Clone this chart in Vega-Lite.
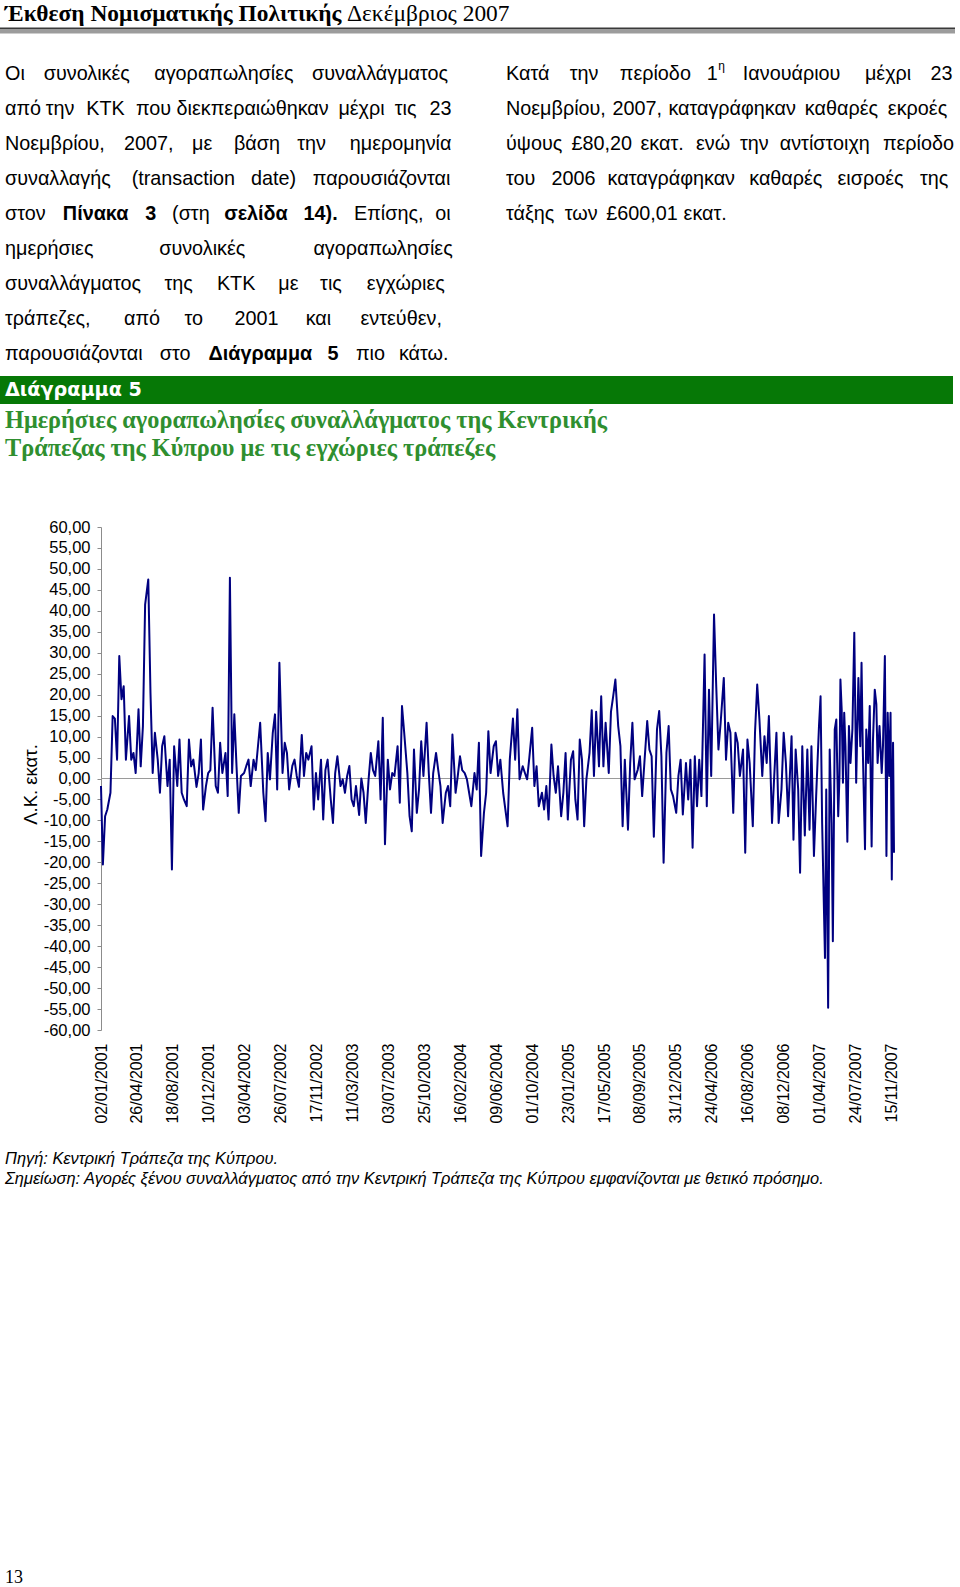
{
  "$schema": "https://vega.github.io/schema/vega-lite/v6.json",
  "width": 793,
  "height": 503,
  "autosize": {"type": "none"},
  "padding": {"left": 101, "top": 527, "right": 66, "bottom": 557},
  "background": "white",
  "config": {"view": {"stroke": null}, "font": "Liberation Sans"},
  "resolve": {"scale": {"x": "independent", "y": "independent"}},
  "datasets": {
    "fx": [
      {"d":"2001-01-02","v":-1.8},{"d":"2001-01-08","v":-20.5},{"d":"2001-01-15","v":-9.0},{"d":"2001-01-22","v":-7.4},
      {"d":"2001-02-01","v":-3.4},{"d":"2001-02-08","v":14.9},{"d":"2001-02-15","v":14.3},{"d":"2001-02-22","v":4.5},
      {"d":"2001-03-01","v":29.2},{"d":"2001-03-08","v":18.9},{"d":"2001-03-15","v":22.0},{"d":"2001-03-22","v":4.5},
      {"d":"2001-04-01","v":14.9},{"d":"2001-04-08","v":4.5},{"d":"2001-04-15","v":6.1},{"d":"2001-04-22","v":1.3},
      {"d":"2001-05-01","v":16.5},{"d":"2001-05-08","v":2.9},{"d":"2001-05-15","v":12.5},{"d":"2001-05-22","v":41.5},
      {"d":"2001-06-01","v":47.5},{"d":"2001-06-08","v":20.4},{"d":"2001-06-15","v":1.3},{"d":"2001-06-22","v":10.9},
      {"d":"2001-07-01","v":4.5},{"d":"2001-07-08","v":-3.4},{"d":"2001-07-15","v":7.7},{"d":"2001-07-22","v":10.1},
      {"d":"2001-08-01","v":-1.8},{"d":"2001-08-08","v":4.5},{"d":"2001-08-15","v":-21.7},{"d":"2001-08-22","v":7.7},
      {"d":"2001-09-01","v":-1.8},{"d":"2001-09-08","v":9.3},{"d":"2001-09-15","v":-3.4},{"d":"2001-09-22","v":-5.0},
      {"d":"2001-10-01","v":-6.6},{"d":"2001-10-08","v":9.3},{"d":"2001-10-15","v":2.9},{"d":"2001-10-22","v":4.5},
      {"d":"2001-11-01","v":-2.0},{"d":"2001-11-08","v":1.3},{"d":"2001-11-15","v":9.3},{"d":"2001-11-22","v":-7.4},
      {"d":"2001-12-01","v":-1.8},{"d":"2001-12-08","v":1.3},{"d":"2001-12-15","v":2.0},{"d":"2001-12-22","v":16.9},
      {"d":"2002-01-01","v":-1.8},{"d":"2002-01-08","v":-3.4},{"d":"2002-01-15","v":8.5},{"d":"2002-01-22","v":1.3},
      {"d":"2002-02-01","v":6.1},{"d":"2002-02-08","v":-4.2},{"d":"2002-02-15","v":47.9},{"d":"2002-02-22","v":1.3},
      {"d":"2002-03-01","v":15.3},{"d":"2002-03-08","v":2.9},{"d":"2002-03-15","v":-8.2},{"d":"2002-03-22","v":0.6},
      {"d":"2002-04-01","v":1.3},{"d":"2002-04-08","v":3.0},{"d":"2002-04-15","v":4.5},{"d":"2002-04-22","v":-1.8},
      {"d":"2002-05-01","v":4.5},{"d":"2002-05-08","v":2.0},{"d":"2002-05-15","v":7.7},{"d":"2002-05-22","v":13.3},
      {"d":"2002-06-01","v":-3.4},{"d":"2002-06-08","v":-10.2},{"d":"2002-06-15","v":6.1},{"d":"2002-06-22","v":-0.2},
      {"d":"2002-07-01","v":10.9},{"d":"2002-07-08","v":15.3},{"d":"2002-07-15","v":-2.6},{"d":"2002-07-22","v":27.6},
      {"d":"2002-08-01","v":1.3},{"d":"2002-08-08","v":8.5},{"d":"2002-08-15","v":6.1},{"d":"2002-08-22","v":-2.6},
      {"d":"2002-09-01","v":3.0},{"d":"2002-09-08","v":4.5},{"d":"2002-09-15","v":0.6},{"d":"2002-09-22","v":-2.0},
      {"d":"2002-10-01","v":10.4},{"d":"2002-10-08","v":0.6},{"d":"2002-10-15","v":6.1},{"d":"2002-10-22","v":4.5},
      {"d":"2002-11-01","v":7.7},{"d":"2002-11-08","v":-7.4},{"d":"2002-11-15","v":1.3},{"d":"2002-11-22","v":-5.0},
      {"d":"2002-12-01","v":4.5},{"d":"2002-12-08","v":-9.8},{"d":"2002-12-15","v":2.0},{"d":"2002-12-22","v":4.5},
      {"d":"2003-01-01","v":-5.0},{"d":"2003-01-08","v":-10.6},{"d":"2003-01-15","v":1.3},{"d":"2003-01-22","v":5.3},
      {"d":"2003-02-01","v":-1.8},{"d":"2003-02-08","v":-0.2},{"d":"2003-02-15","v":-3.4},{"d":"2003-02-22","v":0.6},
      {"d":"2003-03-01","v":3.0},{"d":"2003-03-08","v":-5.0},{"d":"2003-03-15","v":-6.6},{"d":"2003-03-22","v":-1.8},
      {"d":"2003-04-01","v":-8.7},{"d":"2003-04-08","v":0.0},{"d":"2003-04-15","v":-3.4},{"d":"2003-04-22","v":-10.6},
      {"d":"2003-05-01","v":-0.2},{"d":"2003-05-08","v":6.1},{"d":"2003-05-15","v":2.0},{"d":"2003-05-22","v":0.6},
      {"d":"2003-06-01","v":8.9},{"d":"2003-06-08","v":-5.0},{"d":"2003-06-15","v":14.5},{"d":"2003-06-22","v":-15.7},
      {"d":"2003-07-01","v":4.5},{"d":"2003-07-08","v":-2.6},{"d":"2003-07-15","v":1.3},{"d":"2003-07-22","v":0.6},
      {"d":"2003-08-01","v":7.7},{"d":"2003-08-08","v":-5.8},{"d":"2003-08-15","v":17.3},{"d":"2003-08-22","v":10.9},
      {"d":"2003-09-01","v":1.3},{"d":"2003-09-08","v":-9.0},{"d":"2003-09-15","v":-12.6},{"d":"2003-09-22","v":6.9},
      {"d":"2003-10-01","v":-8.2},{"d":"2003-10-08","v":-2.6},{"d":"2003-10-15","v":8.9},{"d":"2003-10-22","v":0.6},
      {"d":"2003-11-01","v":13.3},{"d":"2003-11-08","v":1.3},{"d":"2003-11-15","v":-8.2},{"d":"2003-11-22","v":1.3},
      {"d":"2003-12-01","v":6.1},{"d":"2003-12-08","v":2.0},{"d":"2003-12-15","v":-1.8},{"d":"2003-12-22","v":-10.6},
      {"d":"2004-01-01","v":-3.4},{"d":"2004-01-08","v":-1.8},{"d":"2004-01-15","v":-6.6},{"d":"2004-01-22","v":10.5},
      {"d":"2004-02-01","v":-3.4},{"d":"2004-02-08","v":0.6},{"d":"2004-02-15","v":5.3},{"d":"2004-02-22","v":2.0},
      {"d":"2004-03-01","v":1.3},{"d":"2004-03-08","v":-0.2},{"d":"2004-03-15","v":-3.4},{"d":"2004-03-22","v":-6.6},
      {"d":"2004-04-01","v":1.3},{"d":"2004-04-08","v":-2.6},{"d":"2004-04-15","v":8.5},{"d":"2004-04-22","v":-18.5},
      {"d":"2004-05-01","v":-8.2},{"d":"2004-05-08","v":-3.4},{"d":"2004-05-15","v":11.3},{"d":"2004-05-22","v":1.3},
      {"d":"2004-06-01","v":7.7},{"d":"2004-06-08","v":8.9},{"d":"2004-06-15","v":0.6},{"d":"2004-06-22","v":4.5},
      {"d":"2004-07-01","v":-3.4},{"d":"2004-07-08","v":-7.4},{"d":"2004-07-15","v":-11.4},{"d":"2004-07-22","v":4.5},
      {"d":"2004-08-01","v":14.3},{"d":"2004-08-08","v":4.5},{"d":"2004-08-15","v":16.5},{"d":"2004-08-22","v":-0.2},
      {"d":"2004-09-01","v":2.9},{"d":"2004-09-08","v":1.3},{"d":"2004-09-15","v":-0.2},{"d":"2004-09-22","v":5.0},
      {"d":"2004-10-01","v":12.1},{"d":"2004-10-08","v":-1.8},{"d":"2004-10-15","v":2.9},{"d":"2004-10-22","v":-6.6},
      {"d":"2004-11-01","v":-3.4},{"d":"2004-11-08","v":-7.4},{"d":"2004-11-15","v":-1.8},{"d":"2004-11-22","v":-9.8},
      {"d":"2004-12-01","v":8.1},{"d":"2004-12-08","v":0.6},{"d":"2004-12-15","v":-3.4},{"d":"2004-12-22","v":2.9},
      {"d":"2005-01-01","v":-9.0},{"d":"2005-01-08","v":-3.4},{"d":"2005-01-15","v":6.1},{"d":"2005-01-22","v":-9.8},
      {"d":"2005-02-01","v":4.5},{"d":"2005-02-08","v":6.5},{"d":"2005-02-15","v":-5.0},{"d":"2005-02-22","v":-9.8},
      {"d":"2005-03-01","v":9.3},{"d":"2005-03-08","v":4.5},{"d":"2005-03-15","v":-11.4},{"d":"2005-03-22","v":-0.2},
      {"d":"2005-04-01","v":6.1},{"d":"2005-04-08","v":16.3},{"d":"2005-04-15","v":0.6},{"d":"2005-04-22","v":15.9},
      {"d":"2005-05-01","v":2.9},{"d":"2005-05-08","v":19.6},{"d":"2005-05-15","v":2.9},{"d":"2005-05-22","v":13.3},
      {"d":"2005-06-01","v":1.3},{"d":"2005-06-08","v":15.9},{"d":"2005-06-15","v":19.6},{"d":"2005-06-22","v":23.6},
      {"d":"2005-07-01","v":12.5},{"d":"2005-07-08","v":7.7},{"d":"2005-07-15","v":-11.4},{"d":"2005-07-22","v":4.5},
      {"d":"2005-08-01","v":-12.2},{"d":"2005-08-08","v":3.7},{"d":"2005-08-15","v":13.3},{"d":"2005-08-22","v":-0.2},
      {"d":"2005-09-01","v":2.1},{"d":"2005-09-08","v":5.3},{"d":"2005-09-15","v":-4.2},{"d":"2005-09-22","v":3.7},
      {"d":"2005-10-01","v":13.7},{"d":"2005-10-08","v":6.9},{"d":"2005-10-15","v":5.3},{"d":"2005-10-22","v":-13.9},
      {"d":"2005-11-01","v":11.7},{"d":"2005-11-08","v":16.1},{"d":"2005-11-15","v":5.3},{"d":"2005-11-22","v":-20.1},
      {"d":"2005-12-01","v":6.1},{"d":"2005-12-08","v":12.5},{"d":"2005-12-15","v":-2.6},{"d":"2005-12-22","v":-4.2},
      {"d":"2006-01-01","v":-8.2},{"d":"2006-01-08","v":0.6},{"d":"2006-01-15","v":4.5},{"d":"2006-01-22","v":-8.6},
      {"d":"2006-02-01","v":3.7},{"d":"2006-02-08","v":-5.0},{"d":"2006-02-15","v":4.5},{"d":"2006-02-22","v":-16.5},
      {"d":"2006-03-01","v":5.3},{"d":"2006-03-08","v":-6.6},{"d":"2006-03-15","v":4.5},{"d":"2006-03-22","v":-4.2},
      {"d":"2006-04-01","v":29.6},{"d":"2006-04-08","v":-6.6},{"d":"2006-04-15","v":21.2},{"d":"2006-04-22","v":0.6},
      {"d":"2006-05-01","v":39.1},{"d":"2006-05-08","v":22.0},{"d":"2006-05-15","v":6.9},{"d":"2006-05-22","v":13.3},
      {"d":"2006-06-01","v":24.0},{"d":"2006-06-08","v":4.5},{"d":"2006-06-15","v":13.3},{"d":"2006-06-22","v":10.9},
      {"d":"2006-07-01","v":-8.2},{"d":"2006-07-08","v":10.9},{"d":"2006-07-15","v":8.5},{"d":"2006-07-22","v":0.6},
      {"d":"2006-08-01","v":6.9},{"d":"2006-08-08","v":-17.7},{"d":"2006-08-15","v":9.3},{"d":"2006-08-22","v":3.7},
      {"d":"2006-09-01","v":-11.4},{"d":"2006-09-08","v":10.9},{"d":"2006-09-15","v":22.4},{"d":"2006-09-22","v":14.1},
      {"d":"2006-10-01","v":0.6},{"d":"2006-10-08","v":10.1},{"d":"2006-10-15","v":3.7},{"d":"2006-10-22","v":14.9},
      {"d":"2006-11-01","v":-10.6},{"d":"2006-11-08","v":0.6},{"d":"2006-11-15","v":10.9},{"d":"2006-11-22","v":-10.6},
      {"d":"2006-12-01","v":-2.6},{"d":"2006-12-08","v":10.9},{"d":"2006-12-15","v":3.7},{"d":"2006-12-22","v":-9.0},
      {"d":"2007-01-02","v":10.1},{"d":"2007-01-08","v":-14.6},{"d":"2007-01-15","v":6.9},{"d":"2007-01-23","v":-2.6},
      {"d":"2007-01-29","v":-22.5},{"d":"2007-02-05","v":7.7},{"d":"2007-02-13","v":-13.6},{"d":"2007-02-21","v":6.9},
      {"d":"2007-02-28","v":-12.2},{"d":"2007-03-06","v":7.7},{"d":"2007-03-14","v":-18.5},{"d":"2007-03-21","v":-4.2},
      {"d":"2007-03-30","v":12.5},{"d":"2007-04-04","v":19.6},{"d":"2007-04-09","v":-10.6},{"d":"2007-04-18","v":-42.8},
      {"d":"2007-04-22","v":-2.6},{"d":"2007-04-28","v":-54.7},{"d":"2007-05-03","v":6.9},{"d":"2007-05-09","v":-10.6},
      {"d":"2007-05-13","v":-38.8},{"d":"2007-05-19","v":11.7},{"d":"2007-05-24","v":14.1},{"d":"2007-05-30","v":-9.0},
      {"d":"2007-06-03","v":0.6},{"d":"2007-06-06","v":23.6},{"d":"2007-06-10","v":16.5},{"d":"2007-06-14","v":-1.0},
      {"d":"2007-06-18","v":15.7},{"d":"2007-06-22","v":7.7},{"d":"2007-06-28","v":-15.1},{"d":"2007-07-03","v":12.5},
      {"d":"2007-07-08","v":3.7},{"d":"2007-07-14","v":11.7},{"d":"2007-07-20","v":34.8},{"d":"2007-07-26","v":-1.0},
      {"d":"2007-08-02","v":24.0},{"d":"2007-08-08","v":7.7},{"d":"2007-08-12","v":27.6},{"d":"2007-08-16","v":6.9},
      {"d":"2007-08-23","v":-16.9},{"d":"2007-08-27","v":11.7},{"d":"2007-09-02","v":3.7},{"d":"2007-09-07","v":17.3},
      {"d":"2007-09-13","v":-16.2},{"d":"2007-09-17","v":8.5},{"d":"2007-09-23","v":21.2},{"d":"2007-09-28","v":17.7},
      {"d":"2007-10-02","v":3.7},{"d":"2007-10-08","v":12.5},{"d":"2007-10-15","v":1.3},{"d":"2007-10-19","v":7.7},
      {"d":"2007-10-25","v":29.2},{"d":"2007-10-30","v":-18.5},{"d":"2007-11-03","v":15.7},{"d":"2007-11-08","v":0.6},
      {"d":"2007-11-12","v":15.7},{"d":"2007-11-16","v":-24.1},{"d":"2007-11-20","v":8.5},{"d":"2007-11-23","v":-17.7}
    ],
    "prose": [
      {"blk":"L","ln":1,"t":"Οι συνολικές αγοραπωλησίες συναλλάγματος"},
      {"blk":"L","ln":2,"t":"από την ΚΤΚ που διεκπεραιώθηκαν μέχρι τις 23"},
      {"blk":"L","ln":3,"t":"Νοεμβρίου, 2007, με βάση την ημερομηνία"},
      {"blk":"L","ln":4,"t":"συναλλαγής (transaction date) παρουσιάζονται"},
      {"blk":"L","ln":5,"t":"στον Πίνακα 3 (στη σελίδα 14). Επίσης, οι"},
      {"blk":"L","ln":6,"t":"ημερήσιες συνολικές αγοραπωλησίες"},
      {"blk":"L","ln":7,"t":"συναλλάγματος της ΚΤΚ με τις εγχώριες"},
      {"blk":"L","ln":8,"t":"τράπεζες, από το 2001 και εντεύθεν,"},
      {"blk":"L","ln":9,"t":"παρουσιάζονται στο Διάγραμμα 5 πιο κάτω."},
      {"blk":"R","ln":1,"t":"Κατά την περίοδο 1η Ιανουάριου μέχρι 23"},
      {"blk":"R","ln":2,"t":"Νοεμβρίου, 2007, καταγράφηκαν καθαρές εκροές"},
      {"blk":"R","ln":3,"t":"ύψους £80,20 εκατ. ενώ την αντίστοιχη περίοδο"},
      {"blk":"R","ln":4,"t":"του 2006 καταγράφηκαν καθαρές εισροές της"},
      {"blk":"R","ln":5,"t":"τάξης των £600,01 εκατ."}
    ],
    "ctitle": [
      {"ln":1,"t":"Ημερήσιες αγοραπωλησίες συναλλάγματος της Κεντρικής"},
      {"ln":2,"t":"Τράπεζας της Κύπρου με τις εγχώριες τράπεζες"}
    ],
    "notes": [
      {"ln":1,"t":"Πηγή:  Κεντρική Τράπεζα της Κύπρου."},
      {"ln":2,"t":"Σημείωση:  Αγορές ξένου συναλλάγματος από την Κεντρική Τράπεζα της Κύπρου εμφανίζονται με θετικό πρόσημο."}
    ],
    "one": [{"k":1}]
  },
  "layer": [
    {
      "data": {"name": "one"},
      "mark": {"type": "rule", "color": "#9a9a9a", "strokeWidth": 1},
      "encoding": {"y": {"datum": 0, "type": "quantitative", "scale": {"domain": [-60, 60], "nice": false, "zero": false}, "axis": null}}
    },
    {
      "data": {"name": "fx"},
      "mark": {"type": "line", "color": "#000080", "strokeWidth": 2, "strokeJoin": "round"},
      "encoding": {
        "x": {
          "field": "d", "type": "temporal",
          "scale": {"type": "utc", "nice": false, "domain": [{"year": 2001, "month": 1, "date": 2, "utc": true}, {"year": 2007, "month": 11, "date": 23, "utc": true}]},
          "axis": {
            "values": [
              {"year":2001,"month":1,"date":2,"utc":true},{"year":2001,"month":4,"date":26,"utc":true},{"year":2001,"month":8,"date":18,"utc":true},
              {"year":2001,"month":12,"date":10,"utc":true},{"year":2002,"month":4,"date":3,"utc":true},{"year":2002,"month":7,"date":26,"utc":true},
              {"year":2002,"month":11,"date":17,"utc":true},{"year":2003,"month":3,"date":11,"utc":true},{"year":2003,"month":7,"date":3,"utc":true},
              {"year":2003,"month":10,"date":25,"utc":true},{"year":2004,"month":2,"date":16,"utc":true},{"year":2004,"month":6,"date":9,"utc":true},
              {"year":2004,"month":10,"date":1,"utc":true},{"year":2005,"month":1,"date":23,"utc":true},{"year":2005,"month":5,"date":17,"utc":true},
              {"year":2005,"month":9,"date":8,"utc":true},{"year":2005,"month":12,"date":31,"utc":true},{"year":2006,"month":4,"date":24,"utc":true},
              {"year":2006,"month":8,"date":16,"utc":true},{"year":2006,"month":12,"date":8,"utc":true},{"year":2007,"month":4,"date":1,"utc":true},
              {"year":2007,"month":7,"date":24,"utc":true},{"year":2007,"month":11,"date":15,"utc":true}
            ],
            "format": "%d/%m/%Y",
            "labelAngle": 270, "labelAlign": "right", "labelBaseline": "middle",
            "labelPadding": 13, "ticks": false, "domain": false, "grid": false, "title": null,
            "labelFont": "Liberation Sans", "labelFontSize": 16, "labelColor": "#000000",
            "labelOverlap": false, "labelFlush": false
          }
        },
        "y": {
          "field": "v", "type": "quantitative",
          "scale": {"domain": [-60, 60], "nice": false, "zero": false},
          "axis": {
            "values": [-60,-55,-50,-45,-40,-35,-30,-25,-20,-15,-10,-5,0,5,10,15,20,25,30,35,40,45,50,55,60],
            "labelExpr": "replace(replace(format(datum.value, '.2f'), '.', ','), '−', '-')",
            "title": "Λ.Κ. εκατ.", "titleFont": "Liberation Sans", "titleFontSize": 18.5, "titleFontWeight": "normal",
            "titleColor": "#000000", "titleX": -71, "titleY": 257, "titleAngle": 270, "titleAlign": "center", "titleBaseline": "middle",
            "labelFont": "Liberation Sans", "labelFontSize": 16.5, "labelColor": "#000000", "labelPadding": 7,
            "tickSize": 4, "tickColor": "#8c8c8c", "domainColor": "#8c8c8c", "grid": false,
            "labelOverlap": false, "labelFlush": false, "labelBaseline": "middle"
          }
        }
      }
    },
    {
      "data": {"name": "prose"},
      "transform": [
        {"calculate": "split(datum.t, ' ')", "as": "ws"},
        {"flatten": ["ws"], "as": ["w"]},
        {"calculate": "indexof(['Πίνακα','3','σελίδα','14).','Διάγραμμα','5'], datum.w) >= 0 && datum.blk == 'L'", "as": "b"},
        {"calculate": "datum.w == '1η' ? '1' : datum.w", "as": "s"},
        {"calculate": "length(replace(datum.w, regexp('[^ιίϊΐiljtfr.,:;()]', 'g'), ''))", "as": "nn"},
        {"calculate": "length(replace(datum.w, regexp('[^ωώψmw]', 'g'), ''))", "as": "nw"},
        {"calculate": "length(replace(datum.w, regexp('[^A-ZΑ-ΩΆΈΉΊΌΎΏ£]', 'g'), ''))", "as": "nu"},
        {"calculate": "datum.w == '1η' ? 0.556 * 19.8 + 7 : 19.8 * (0.54 * length(datum.w) - 0.29 * datum.nn + 0.22 * datum.nw + 0.15 * datum.nu + (datum.b ? 0.05 * length(datum.w) : 0))", "as": "ww"},
        {"window": [{"op": "row_number", "as": "i"}], "groupby": ["blk", "ln"]},
        {"window": [{"op": "sum", "field": "ww", "as": "cum"}], "groupby": ["blk", "ln"], "frame": [null, -1]},
        {"joinaggregate": [{"op": "count", "as": "n"}, {"op": "sum", "field": "ww", "as": "tw"}], "groupby": ["blk", "ln"]},
        {"calculate": "(datum.blk == 'R' && datum.ln == 5) ? 5.2 : (datum.n > 1 ? (446 - datum.tw) / (datum.n - 1) : 0)", "as": "g"},
        {"calculate": "(datum.blk == 'L' ? 5 : 506) + (datum.cum || 0) + (datum.i - 1) * datum.g", "as": "gx"}
      ],
      "encoding": {
        "x": {"field": "gx", "type": "quantitative", "scale": {"domain": [0, 960], "range": [-101, 859]}, "axis": null},
        "y": {"field": "ln", "type": "quantitative", "scale": {"domain": [1, 9], "range": [-453, -173]}, "axis": null}
      },
      "layer": [
        {
          "transform": [{"filter": "!datum.b"}],
          "mark": {"type": "text", "align": "left", "baseline": "middle", "font": "Liberation Sans", "fontSize": 19.8, "color": "#000000"},
          "encoding": {"text": {"field": "s"}}
        },
        {
          "transform": [{"filter": "datum.b"}],
          "mark": {"type": "text", "align": "left", "baseline": "middle", "font": "Liberation Sans", "fontSize": 19.8, "fontWeight": "bold", "color": "#000000"},
          "encoding": {"text": {"field": "s"}}
        },
        {
          "transform": [{"filter": "datum.w == '1η'"}],
          "mark": {"type": "text", "align": "left", "baseline": "middle", "font": "Liberation Sans", "fontSize": 12, "dx": 11.5, "dy": -8, "color": "#000000"},
          "encoding": {"text": {"value": "η"}}
        }
      ]
    },
    {
      "data": {"name": "one"},
      "mark": {"type": "rect", "color": "#9c9c9c"},
      "encoding": {
        "x": {"datum": 0, "type": "quantitative", "scale": {"domain": [0, 960], "range": [-101, 859]}, "axis": null},
        "x2": {"datum": 955},
        "y": {"datum": 29, "type": "quantitative", "scale": {"domain": [0, 1587], "range": [-527, 1060]}, "axis": null},
        "y2": {"datum": 33.5}
      }
    },
    {
      "data": {"name": "one"},
      "mark": {"type": "rect", "color": "#3a3a3a"},
      "encoding": {
        "x": {"datum": 0, "type": "quantitative", "scale": {"domain": [0, 960], "range": [-101, 859]}, "axis": null},
        "x2": {"datum": 955},
        "y": {"datum": 27.5, "type": "quantitative", "scale": {"domain": [0, 1587], "range": [-527, 1060]}, "axis": null},
        "y2": {"datum": 29}
      }
    },
    {
      "data": {"name": "one"},
      "mark": {"type": "text", "align": "left", "baseline": "alphabetic", "font": "Liberation Serif", "fontSize": 23.4, "fontWeight": "bold", "color": "#000000", "text": "Έκθεση Νομισματικής Πολιτικής"},
      "encoding": {
        "x": {"datum": 5, "type": "quantitative", "scale": {"domain": [0, 960], "range": [-101, 859]}, "axis": null},
        "y": {"datum": 21, "type": "quantitative", "scale": {"domain": [0, 1587], "range": [-527, 1060]}, "axis": null}
      }
    },
    {
      "data": {"name": "one"},
      "mark": {"type": "text", "align": "left", "baseline": "alphabetic", "font": "Liberation Serif", "fontSize": 23.4, "color": "#000000", "text": "Δεκέμβριος 2007"},
      "encoding": {
        "x": {"datum": 347, "type": "quantitative", "scale": {"domain": [0, 960], "range": [-101, 859]}, "axis": null},
        "y": {"datum": 21, "type": "quantitative", "scale": {"domain": [0, 1587], "range": [-527, 1060]}, "axis": null}
      }
    },
    {
      "data": {"name": "one"},
      "mark": {"type": "rect", "color": "#067806"},
      "encoding": {
        "x": {"datum": 0, "type": "quantitative", "scale": {"domain": [0, 960], "range": [-101, 859]}, "axis": null},
        "x2": {"datum": 953},
        "y": {"datum": 376, "type": "quantitative", "scale": {"domain": [0, 1587], "range": [-527, 1060]}, "axis": null},
        "y2": {"datum": 404}
      }
    },
    {
      "data": {"name": "one"},
      "mark": {"type": "text", "align": "left", "baseline": "middle", "font": "DejaVu Sans", "fontSize": 19.2, "fontWeight": "bold", "color": "#ffffff", "text": "Διάγραμμα 5"},
      "encoding": {
        "x": {"datum": 5, "type": "quantitative", "scale": {"domain": [0, 960], "range": [-101, 859]}, "axis": null},
        "y": {"datum": 390, "type": "quantitative", "scale": {"domain": [0, 1587], "range": [-527, 1060]}, "axis": null}
      }
    },
    {
      "data": {"name": "ctitle"},
      "mark": {"type": "text", "align": "left", "baseline": "middle", "font": "Liberation Serif", "fontSize": 24.3, "fontWeight": "bold", "color": "#2f8f2f"},
      "encoding": {
        "text": {"field": "t"},
        "x": {"datum": 5, "type": "quantitative", "scale": {"domain": [0, 960], "range": [-101, 859]}, "axis": null},
        "y": {"field": "ln", "type": "quantitative", "scale": {"domain": [1, 2], "range": [-106, -78]}, "axis": null}
      }
    },
    {
      "data": {"name": "notes"},
      "mark": {"type": "text", "align": "left", "baseline": "middle", "font": "Liberation Sans", "fontSize": 16.4, "fontStyle": "italic", "color": "#000000"},
      "encoding": {
        "text": {"field": "t"},
        "x": {"datum": 5, "type": "quantitative", "scale": {"domain": [0, 960], "range": [-101, 859]}, "axis": null},
        "y": {"field": "ln", "type": "quantitative", "scale": {"domain": [1, 2], "range": [632, 651.5]}, "axis": null}
      }
    },
    {
      "data": {"name": "one"},
      "mark": {"type": "text", "align": "left", "baseline": "middle", "font": "Liberation Serif", "fontSize": 18, "color": "#000000", "text": "13"},
      "encoding": {
        "x": {"datum": 5, "type": "quantitative", "scale": {"domain": [0, 960], "range": [-101, 859]}, "axis": null},
        "y": {"datum": 1578, "type": "quantitative", "scale": {"domain": [0, 1587], "range": [-527, 1060]}, "axis": null}
      }
    }
  ]
}
